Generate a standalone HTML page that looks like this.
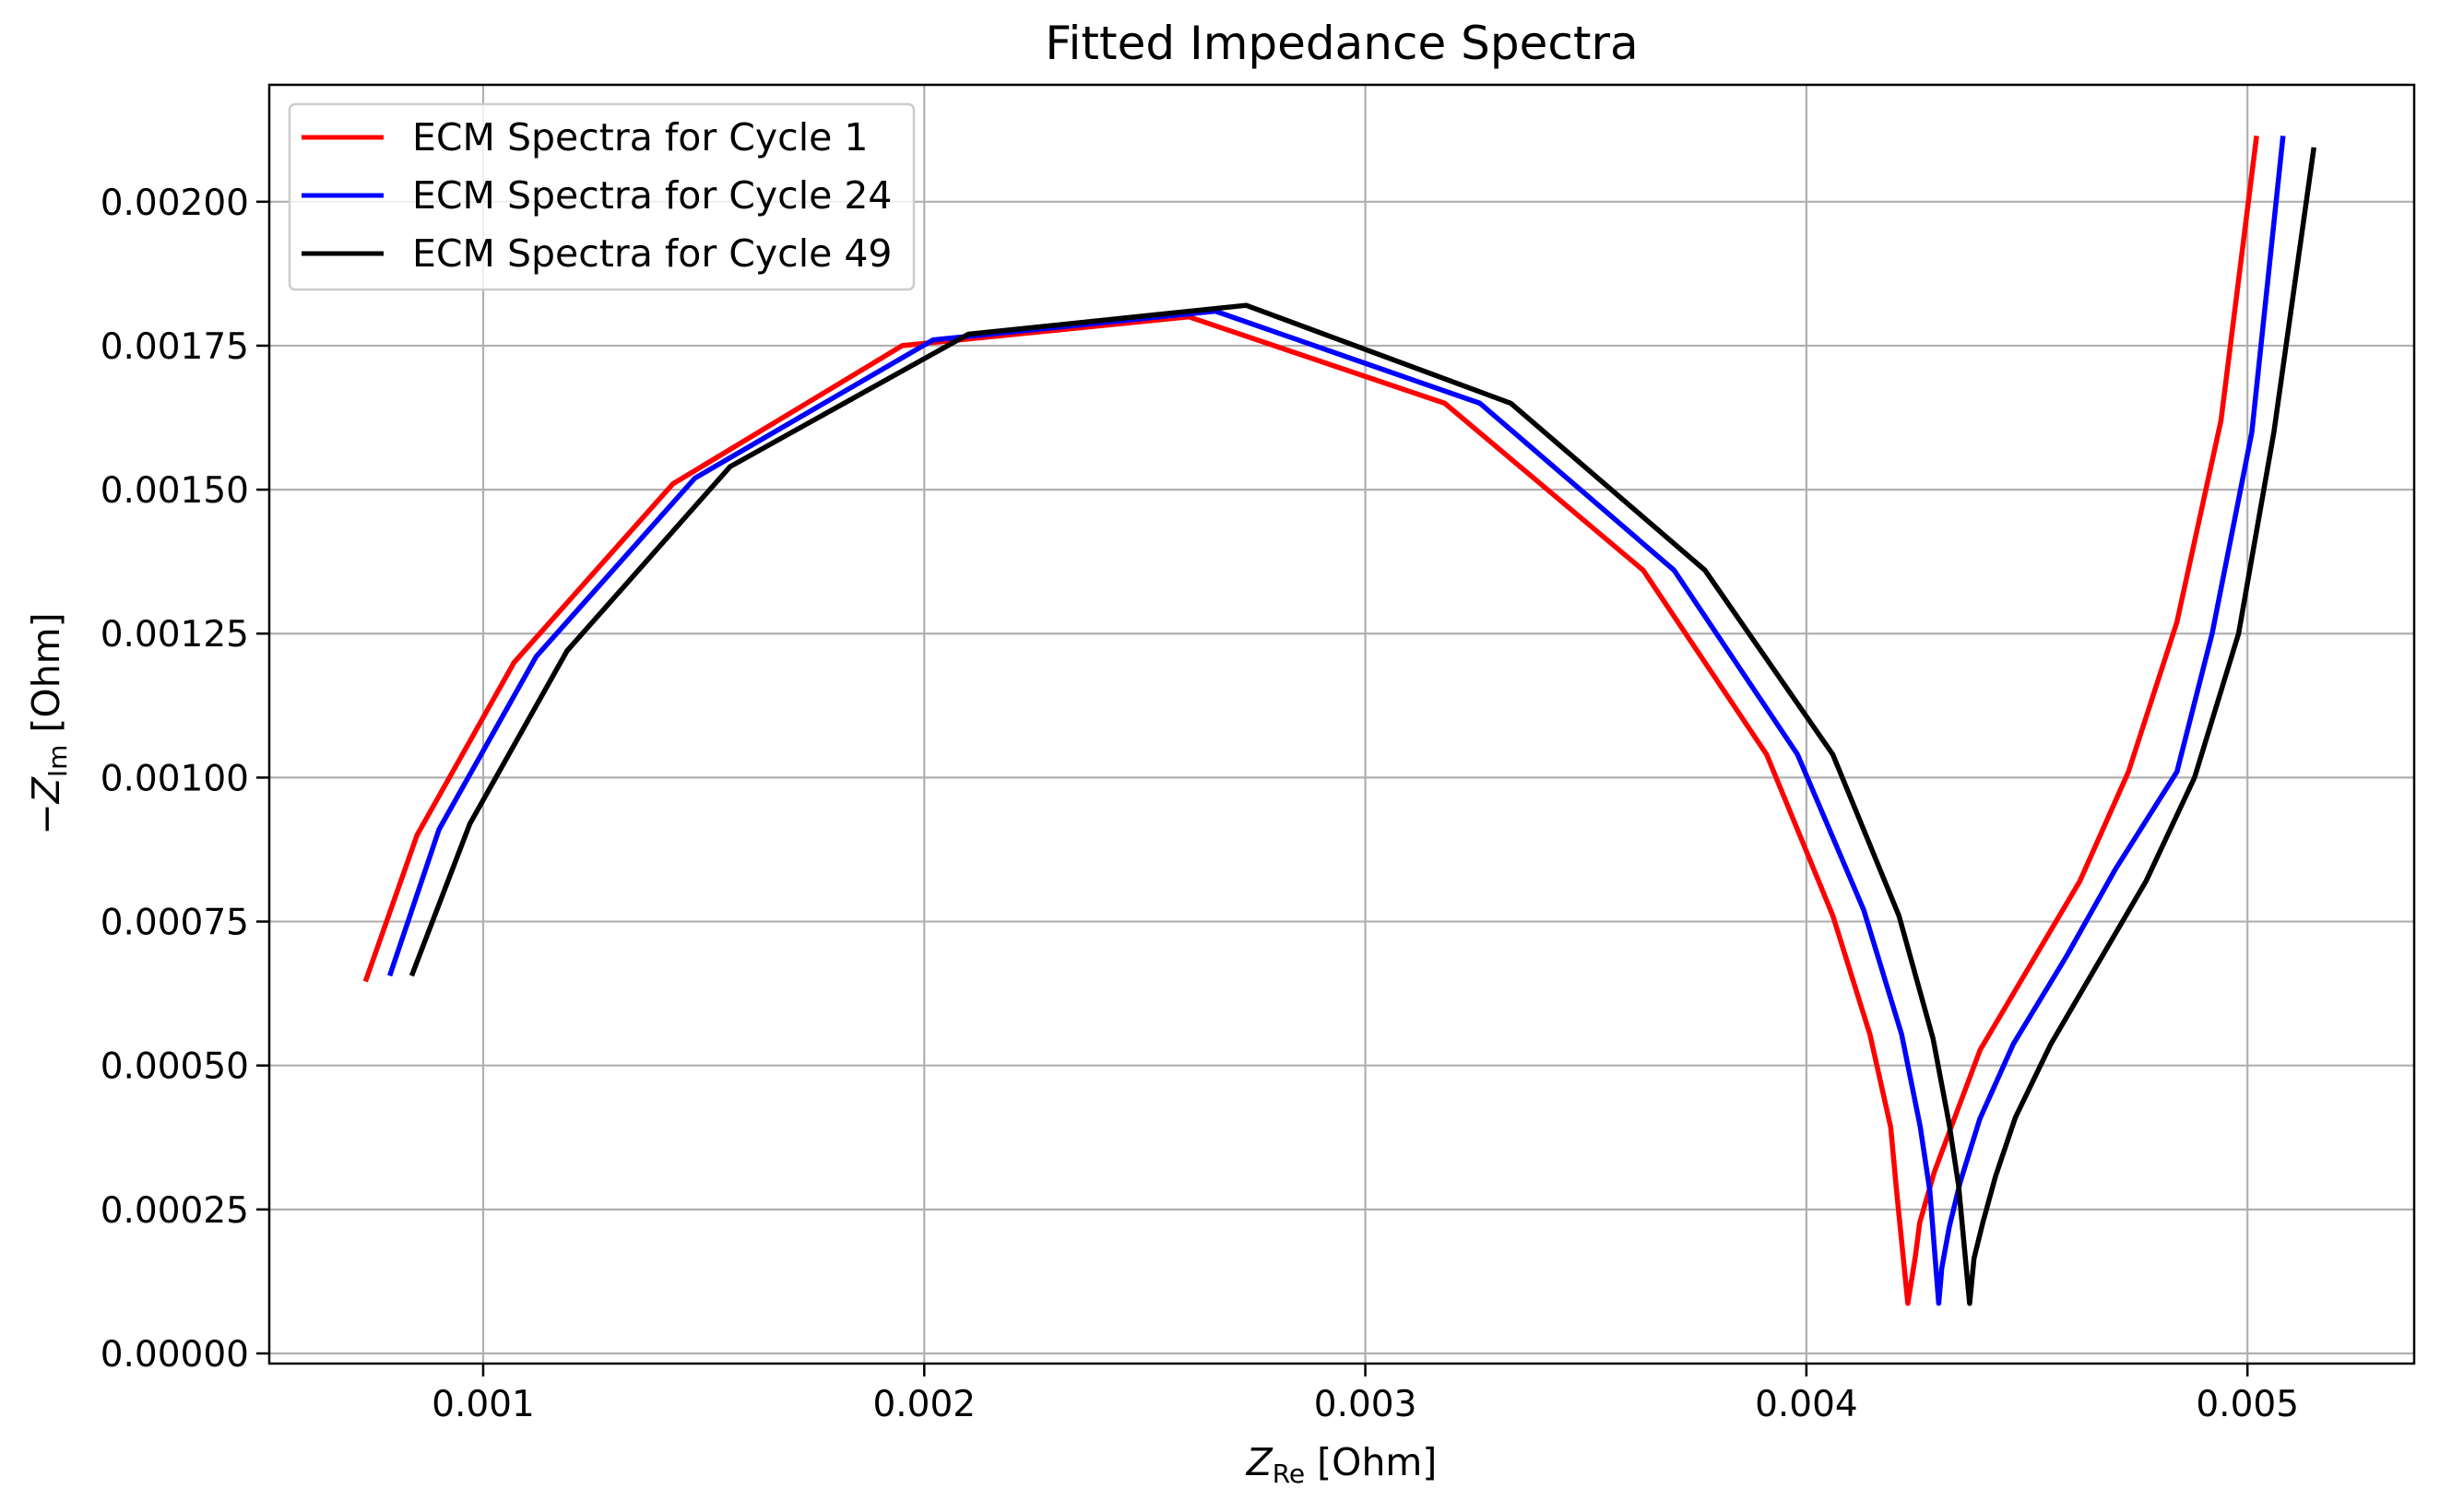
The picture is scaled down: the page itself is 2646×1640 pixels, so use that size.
<!DOCTYPE html>
<html><head><meta charset="utf-8"><style>
html,body{margin:0;padding:0;background:#fff;}
svg{display:block;font-family:"DejaVu Sans","Liberation Sans",sans-serif;}
</style></head><body>
<svg id="chart" width="2646" height="1640" viewBox="0 0 2646 1640" xmlns="http://www.w3.org/2000/svg">
<rect width="2646" height="1640" fill="#fff"/>
<g id="grid"></g>
<g id="series"></g>
<rect x="292" y="92" width="2326" height="1387" fill="none" stroke="#000" stroke-width="2.5"/>
<g id="ticks"></g>
<text x="1455" y="64" font-size="50" text-anchor="middle">Fitted Impedance Spectra</text>
<text x="1455" y="1600" font-size="41" text-anchor="middle"><tspan font-style="italic">Z</tspan><tspan font-size="28" dy="8">Re</tspan><tspan dy="-8"> [Ohm]</tspan></text>
<text transform="translate(64,785) rotate(-90)" font-size="41" text-anchor="middle">−<tspan font-style="italic">Z</tspan><tspan font-size="28" dy="8">Im</tspan><tspan dy="-8"> [Ohm]</tspan></text>
<g>
<rect x="314" y="113" width="677" height="201" rx="6" fill="#fff" fill-opacity="0.8" stroke="#ccc" stroke-width="2.5"/>
<line x1="327" y1="149" x2="416" y2="149" stroke="#ff0000" stroke-width="5"/>
<text x="447" y="163" font-size="41">ECM Spectra for Cycle 1</text>
<line x1="327" y1="212" x2="416" y2="212" stroke="#0000ff" stroke-width="5"/>
<text x="447" y="226" font-size="41">ECM Spectra for Cycle 24</text>
<line x1="327" y1="275" x2="416" y2="275" stroke="#000" stroke-width="5"/>
<text x="447" y="289" font-size="41">ECM Spectra for Cycle 49</text>
</g>
</svg>
<script>
const xTicks=[0.001,0.002,0.003,0.004,0.005];
const xTickLabels=["0.001","0.002","0.003","0.004","0.005"];
const yTicks=[0,0.00025,0.0005,0.00075,0.001,0.00125,0.0015,0.00175,0.002];
const yTickLabels=["0.00000","0.00025","0.00050","0.00075","0.00100","0.00125","0.00150","0.00175","0.00200"];
const cycle1X=[0.000735,0.00085,0.00107,0.00143,0.00195,0.0026,0.00318,0.00363,0.00391,0.00406,0.004144,0.004191,0.004205,0.00423,0.004247,0.004257,0.00429,0.004394,0.00462,0.00473,0.00484,0.00494,0.00502];
const cycle1Y=[0.00065,0.0009,0.0012,0.00151,0.00175,0.0018,0.00165,0.00136,0.00104,0.00076,0.000554,0.000393,0.000279,0.000087,0.000168,0.000227,0.000315,0.000527,0.00082,0.00101,0.00127,0.00162,0.00211];
const cycle24X=[0.00079,0.0009,0.00112,0.00148,0.00202,0.00266,0.00326,0.0037,0.00398,0.00413,0.004216,0.004258,0.00428,0.0043,0.004307,0.004324,0.004349,0.004393,0.004469,0.00459,0.0047,0.00484,0.00492,0.00501,0.00508];
const cycle24Y=[0.00066,0.00091,0.00121,0.00152,0.00176,0.00181,0.00165,0.00136,0.00104,0.00077,0.000554,0.000394,0.000282,0.000087,0.000148,0.00022,0.000298,0.000407,0.000537,0.00069,0.00084,0.00101,0.00125,0.0016,0.00211];
const cycle49X=[0.00084,0.00097,0.00119,0.00156,0.0021,0.00273,0.00333,0.00377,0.00406,0.00421,0.004287,0.004324,0.004345,0.00437,0.00438,0.0044,0.004429,0.004474,0.004554,0.00477,0.00488,0.00498,0.00506,0.00515];
const cycle49Y=[0.00066,0.00092,0.00122,0.00154,0.00177,0.00182,0.00165,0.00136,0.00104,0.00076,0.000547,0.000397,0.000292,0.000087,0.000165,0.000227,0.000308,0.00041,0.000537,0.00082,0.001,0.00125,0.0016,0.00209];
const L=292,R=2618,T=92,B=1479;
const X0=0.000515,X1=0.005378,Y0=-0.0000176,Y1=0.002203;
function sx(v){return L+(v-X0)/(X1-X0)*(R-L);}
function sy(v){return B-(v-Y0)/(Y1-Y0)*(B-T);}
const NS="http://www.w3.org/2000/svg";
const grid=document.getElementById('grid'),ticks=document.getElementById('ticks'),series=document.getElementById('series');
function mk(tag,attrs,parent){const e=document.createElementNS(NS,tag);for(const k in attrs)e.setAttribute(k,attrs[k]);parent.appendChild(e);return e;}
xTicks.forEach((v,i)=>{const x=sx(v);
const g=mk('line',{x1:x,x2:x,y1:T,y2:B,stroke:'#b0b0b0','stroke-width':2.2},grid);


const t=mk('line',{x1:x,x2:x,y1:B,y2:B+14,stroke:'#000','stroke-width':2.5},ticks);


const l=mk('text',{x:x,y:B+57,'font-size':39,'text-anchor':'middle'},ticks);l.textContent=xTickLabels[i];

});
yTicks.forEach((v,i)=>{const y=sy(v);
const g=mk('line',{x1:L,x2:R,y1:y,y2:y,stroke:'#b0b0b0','stroke-width':2.2},grid);


const t=mk('line',{x1:L-14,x2:L,y1:y,y2:y,stroke:'#000','stroke-width':2.5},ticks);


const l=mk('text',{x:L-22,y:y+14,'font-size':39,'text-anchor':'end'},ticks);l.textContent=yTickLabels[i];

});
function line(xs,ys,color,name){const d=xs.map((x,i)=>(i?'L':'M')+sx(x).toFixed(1)+','+sy(ys[i]).toFixed(1)).join(' ');
const p=mk('path',{d:d,fill:'none',stroke:color,'stroke-width':5.5,'stroke-linejoin':'round','stroke-linecap':'square'},series);

}
line(cycle1X,cycle1Y,'#ff0000','line-cycle-1');
line(cycle24X,cycle24Y,'#0000ff','line-cycle-24');
line(cycle49X,cycle49Y,'#000000','line-cycle-49');
</script>
</body></html>
